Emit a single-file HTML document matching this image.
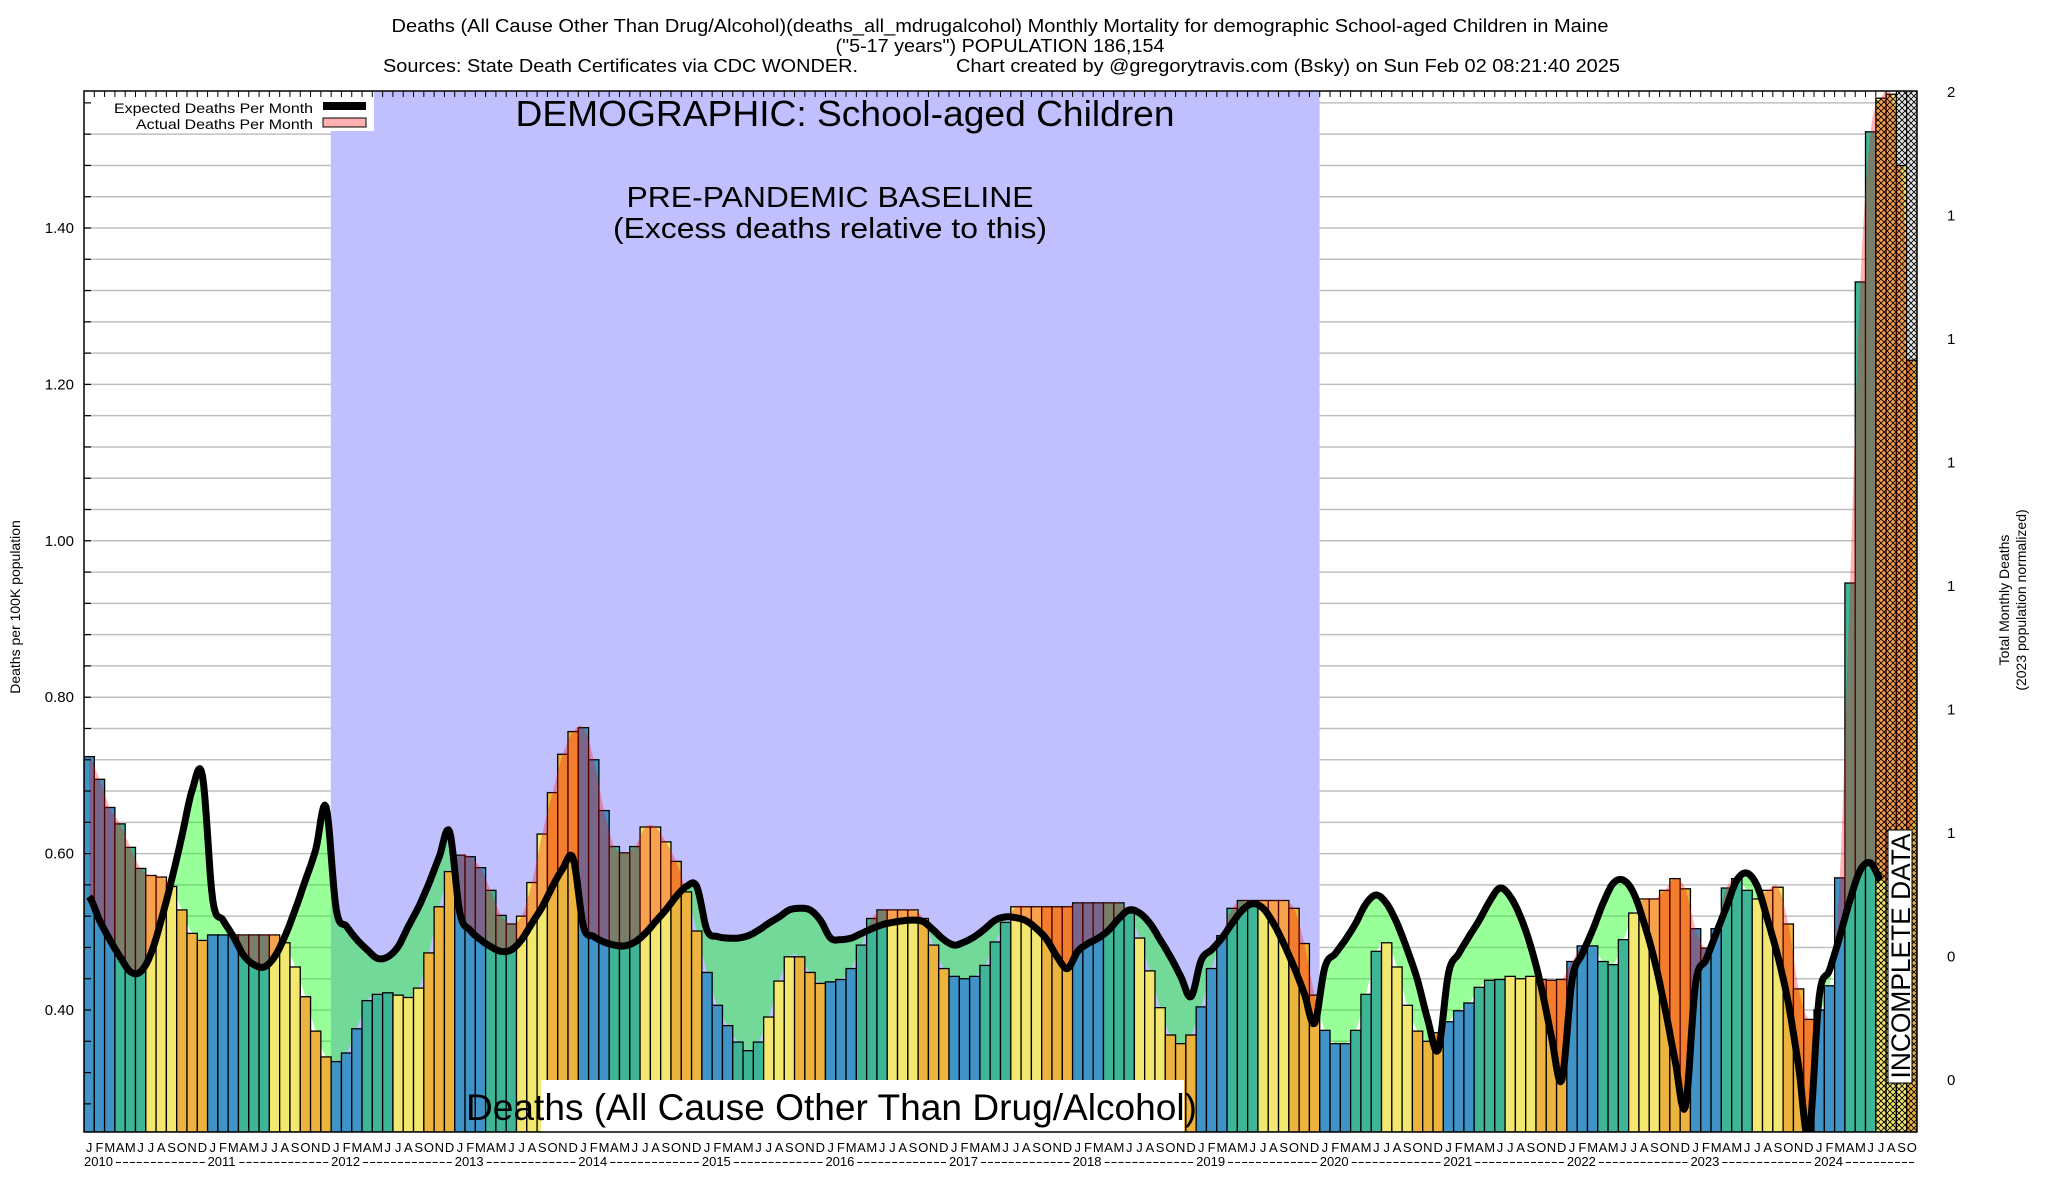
<!DOCTYPE html>
<html><head><meta charset="utf-8"><style>
html,body{margin:0;padding:0;background:#fff;}
svg{display:block;font-family:"Liberation Sans",sans-serif;}
</style></head><body>
<svg id="chart" width="2048" height="1200" viewBox="0 0 2048 1200" xmlns="http://www.w3.org/2000/svg">
<defs>
<pattern id="hatch" width="6" height="6" patternUnits="userSpaceOnUse"><path d="M0,0L6,6M6,0L0,6" stroke="#000" stroke-width="0.9"/></pattern>
<clipPath id="plotclip"><rect x="84" y="91" width="1833" height="1041"/></clipPath>
</defs>
<rect x="0" y="0" width="2048" height="1200" fill="#fff"/>
<g id="grid"></g>
<rect x="330.8" y="91" width="988.8" height="1041" fill="#c0c0ff"/>
<g id="marks" clip-path="url(#plotclip)"></g>
<g id="legend">
<rect x="85" y="92" width="289" height="39" fill="#fff"/>
<text x="313" y="113" font-size="14" text-anchor="end" textLength="199" lengthAdjust="spacingAndGlyphs">Expected Deaths Per Month</text>
<rect x="323" y="102" width="43" height="8" fill="#000"/>
<text x="313" y="129" font-size="14" text-anchor="end" textLength="177" lengthAdjust="spacingAndGlyphs">Actual Deaths Per Month</text>
<rect x="323" y="118" width="43" height="9" fill="#ffb0b0" stroke="#000" stroke-width="1"/>
</g>
<text x="1000" y="32" font-size="18" text-anchor="middle" textLength="1217" lengthAdjust="spacingAndGlyphs">Deaths (All Cause Other Than Drug/Alcohol)(deaths_all_mdrugalcohol) Monthly Mortality for demographic School-aged Children in Maine</text>
<text x="1000" y="52" font-size="18" text-anchor="middle" textLength="329" lengthAdjust="spacingAndGlyphs">("5-17 years") POPULATION 186,154</text>
<text x="383" y="72" font-size="18" textLength="475" lengthAdjust="spacingAndGlyphs">Sources: State Death Certificates via CDC WONDER.</text>
<text x="956" y="72" font-size="18" textLength="664" lengthAdjust="spacingAndGlyphs">Chart created by @gregorytravis.com (Bsky) on Sun Feb 02 08:21:40 2025</text>
<text x="845" y="126" font-size="36" text-anchor="middle" textLength="659" lengthAdjust="spacingAndGlyphs">DEMOGRAPHIC: School-aged Children</text>
<text x="830" y="207" font-size="29" text-anchor="middle" textLength="407" lengthAdjust="spacingAndGlyphs">PRE-PANDEMIC BASELINE</text>
<text x="830" y="238" font-size="29" text-anchor="middle" textLength="434" lengthAdjust="spacingAndGlyphs">(Excess deaths relative to this)</text>
<rect x="541" y="1080" width="643" height="52" fill="#fff"/>
<text x="466" y="1120" font-size="37" textLength="731" lengthAdjust="spacingAndGlyphs">Deaths (All Cause Other Than Drug/Alcohol)</text>
<g>
<rect x="1888" y="830" width="24" height="253" fill="#fff" stroke="#000" stroke-width="1"/>
<text x="0" y="0" font-size="27" text-anchor="middle" transform="translate(1910,956) rotate(-90)" textLength="245" lengthAdjust="spacingAndGlyphs">INCOMPLETE DATA</text>
</g>
<rect x="84" y="91" width="1833" height="1041" fill="none" stroke="#000" stroke-width="1.5"/>
<g id="axes"></g>
<text x="0" y="0" font-size="14" text-anchor="middle" transform="translate(20,607) rotate(-90)">Deaths per 100K population</text>
<text x="0" y="0" font-size="14" text-anchor="middle" transform="translate(2009,600) rotate(-90)">Total Monthly Deaths</text>
<text x="0" y="0" font-size="14" text-anchor="middle" transform="translate(2026,600) rotate(-90)">(2023 population normalized)</text>
</svg>
<script>
const years = [2010,2011,2012,2013,2014,2015,2016,2017,2018,2019,2020,2021,2022,2023,2024];
const monthLetters = ["J","F","M","A","M","J","J","A","S","O","N","D"];
const actual = [
.724,.695,.659,.638,.608,.581,.572,.570,.558,.528,.498,.489,
.496,.496,.496,.496,.496,.496,.496,.486,.455,.417,.373,.340,
.334,.345,.376,.412,.420,.422,.419,.416,.428,.473,.532,.577,
.598,.596,.582,.553,.521,.510,.520,.563,.625,.678,.727,.756,
.761,.720,.655,.609,.601,.609,.634,.634,.615,.590,.551,.501,
.448,.406,.380,.359,.348,.359,.391,.437,.468,.468,.448,.434,
.436,.439,.453,.483,.517,.528,.528,.528,.528,.517,.483,.453,
.443,.440,.443,.457,.487,.512,.532,.532,.532,.532,.532,.532,
.537,.537,.537,.537,.537,.524,.492,.450,.403,.368,.357,.368,
.404,.453,.495,.530,.540,.540,.540,.540,.540,.530,.485,.419,
.374,.357,.357,.374,.420,.475,.486,.455,.406,.373,.360,.371,
.385,.399,.409,.429,.438,.439,.443,.440,.443,.439,.438,.439,
.462,.482,.482,.462,.458,.490,.524,.542,.542,.553,.568,.555,
.504,.479,.504,.556,.568,.553,.542,.553,.557,.510,.427,.388,
.400,.431,.569,.946,1.331,1.523,1.566,1.571,1.480,1.231];
const expected = [
.545,.515,.490,.468,.449,.449,.472,.515,.566,.622,.681,.700,
.541,.515,.494,.470,.458,.455,.468,.494,.528,.566,.605,.660,
.528,.507,.490,.477,.466,.468,.481,.507,.532,.562,.596,.628,
.524,.502,.490,.481,.475,.477,.490,.511,.532,.558,.581,.594,
.507,.494,.487,.483,.482,.487,.498,.513,.528,.545,.558,.558,
.502,.494,.492,.492,.495,.502,.511,.519,.528,.530,.528,.515,
.492,.490,.492,.498,.504,.509,.512,.514,.515,.513,.502,.490,
.483,.487,.494,.504,.515,.519,.518,.514,.504,.490,.468,.453,
.475,.485,.492,.502,.517,.528,.524,.511,.490,.468,.443,.417,
.464,.477,.492,.511,.528,.536,.530,.511,.485,.455,.421,.383,
.455,.472,.490,.511,.536,.547,.536,.511,.477,.438,.387,.349,
.447,.472,.494,.515,.539,.556,.545,.519,.481,.430,.366,.310,
.438,.472,.502,.536,.562,.566,.549,.511,.464,.404,.336,.276,
.434,.464,.498,.532,.566,.575,.558,.515,.468,.409,.328,.238,
.417,.451,.494,.541,.579,.588,.566,null,null,null];
const yTicks = [0.40,0.60,0.80,1.00,1.20,1.40];
const rightTickLabels = ["2","1","1","1","1","1","1","0","0"];
const incompleteFrom = 174;

const NS="http://www.w3.org/2000/svg";
const PL=84, PR=1917, PT=91, PB=1132;
const N=actual.length, BW=(PR-PL)/N;
function xL(i){return PL+BW*i;}
function xC(i){return PL+BW*(i+0.5);}
function yV(v){return 1010-(v-0.4)*782;}
function mk(tag,attrs,parent){const e=document.createElementNS(NS,tag);for(const k in attrs)e.setAttribute(k,attrs[k]);parent.appendChild(e);return e;}
const grid=document.getElementById('grid'), marks=document.getElementById('marks'), axes=document.getElementById('axes');

for(let k=0;k<=33;k++){const v=0.28+0.04*k; const y=yV(v); if(y<PT+2||y>PB-2)continue;
 const l=mk('line',{x1:PL,x2:PR,y1:y,y2:y,stroke:'#c0c0c0','stroke-width':1.5},grid);
 
 
 const t=mk('line',{x1:PL,x2:PL+7,y1:y,y2:y,stroke:'#000','stroke-width':1.2},axes);
 
 
}
yTicks.forEach(v=>{const t=mk('text',{x:74,y:yV(v)+5,'font-size':15,'text-anchor':'end'},axes);t.textContent=v.toFixed(2);
 
 });
rightTickLabels.forEach((s,k)=>{const t=mk('text',{x:1947,y:92+k*123.5+5,'font-size':15},axes);t.textContent=s;
 
 });
for(let i=0;i<=N;i++){const l=mk('line',{x1:xL(i),x2:xL(i),y1:PT,y2:PT+6,stroke:'#000','stroke-width':1},axes);
 
 }

// dense smoothed samples
function dense(arr,end){const pts=[];const S=8;
 for(let i=0;i<end-1;i++){const p0=arr[Math.max(i-1,0)],p1=arr[i],p2=arr[i+1],p3=arr[Math.min(i+2,end-1)];
  for(let s=0;s<S;s++){const t=s/S,t2=t*t,t3=t2*t;
   const v=0.5*((2*p1)+(-p0+p2)*t+(2*p0-5*p1+4*p2-p3)*t2+(-p0+3*p1-3*p2+p3)*t3);
   pts.push([xC(i)+BW*t,yV(v)]);}}
 pts.push([xC(end-1),yV(arr[end-1])]);return pts;}
const lastE=expected.filter(v=>v!==null); const eEnd=lastE.length;
const eFill=expected.map(v=>v===null?lastE[eEnd-1]:v);
const A=dense(actual,N), E=dense(eFill,N);
function regions(sign){let d='';let run=null;
 for(let k=0;k<A.length;k++){const diff=(E[k][1]-A[k][1])*sign; // >0 means actual above (sign=1)
  if(diff>0){ if(!run){run={up:[],lo:[]};
     if(k>0){const pd=(E[k-1][1]-A[k-1][1])*sign;const f=pd/(pd-diff);const x=A[k-1][0]+f*(A[k][0]-A[k-1][0]);const y=A[k-1][1]+f*(A[k][1]-A[k-1][1]);run.up.push([x,y]);}}
   run.up.push(A[k]);run.lo.push(E[k]);}
  else if(run){const pd=(E[k-1][1]-A[k-1][1])*sign;const f=pd/(pd-diff);const x=A[k-1][0]+f*(A[k][0]-A[k-1][0]);const y=A[k-1][1]+f*(A[k][1]-A[k-1][1]);run.up.push([x,y]);
   d+=close(run);run=null;}}
 if(run)d+=close(run);return d;}
function close(r){const pts=r.up.concat(r.lo.slice().reverse());return 'M'+pts.map(p=>p[0].toFixed(1)+','+p[1].toFixed(1)).join('L')+'Z';}
const green=mk('path',{d:regions(-1),fill:'rgba(0,255,0,0.4)'},marks);



const seasonColors=['#3f93c6','#3fb597','#f3e86f','#ecb43f'];
actual.forEach((v,i)=>{const q=Math.floor((i%12)/3);
 const r=mk('rect',{x:xL(i),y:yV(v),width:BW,height:PB-yV(v),fill:seasonColors[q],stroke:'#000','stroke-width':1.3},marks);
 
 });
const pink=mk('path',{d:regions(1),fill:'rgba(255,0,0,0.3)'},marks);


for(let i=incompleteFrom;i<N;i++){
 const h=mk('rect',{x:xL(i),y:yV(actual[i]),width:BW,height:PB-yV(actual[i]),fill:'url(#hatch)'},marks);
 
 
 if(i>=N-2){const g=mk('rect',{x:xL(i),y:PT,width:BW,height:yV(actual[i])-PT,fill:'#e6e6e6',stroke:'#000','stroke-width':1},marks);
  
  
  const g2=mk('rect',{x:xL(i),y:PT,width:BW,height:yV(actual[i])-PT,fill:'url(#hatch)'},marks);
  
  }}
const Ed=dense(lastE,eEnd);
const line=mk('path',{d:'M'+Ed.map(p=>p[0].toFixed(1)+','+p[1].toFixed(1)).join('L'),fill:'none',stroke:'#000','stroke-width':7,'stroke-linejoin':'round'},marks);



// x axis labels
actual.forEach((v,i)=>{const t=mk('text',{x:xC(i),y:1152,'font-size':13,'text-anchor':'middle'},axes);t.textContent=monthLetters[i%12];
 
 });
years.forEach((yr,k)=>{const x0=xL(k*12);const t=mk('text',{x:x0,y:1166,'font-size':13},axes);t.textContent=String(yr);
 
 
 const x1=Math.min(xL((k+1)*12),PR)-2;const xs=x0+31;
 if(x1-xs>10){const n=Math.floor((x1-xs)/6.5);const dsh=mk('text',{x:xs,y:1166,'font-size':13,textLength:x1-xs,lengthAdjust:'spacingAndGlyphs'},axes);dsh.textContent='-'.repeat(n);
  
  }});
</script>
</body></html>
